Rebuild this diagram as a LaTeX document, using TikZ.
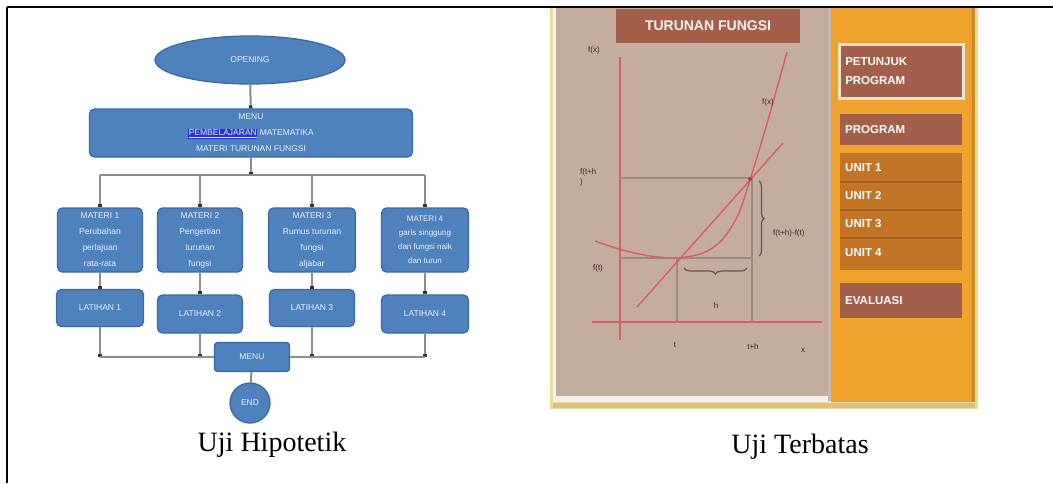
\documentclass[tikz,border=0pt]{standalone}
\usepackage{fontspec}
\setmainfont{Liberation Serif}
\setsansfont{Liberation Sans}
\usetikzlibrary{shapes.geometric,arrows.meta,decorations.pathreplacing,calc}
\definecolor{flowblue}{HTML}{4F81BD}
\definecolor{flowedge}{HTML}{3B69A3}
\definecolor{conngray}{HTML}{8C8C8C}
\definecolor{tipdark}{HTML}{333333}
\definecolor{linkblue}{HTML}{2233CC}
\definecolor{tanbg}{HTML}{C4AC9F}
\definecolor{brick}{HTML}{A2604A}
\definecolor{orangebg}{HTML}{F0A22E}
\definecolor{unitbg}{HTML}{C27526}
\definecolor{unitline}{HTML}{A65E1E}
\definecolor{paleyel}{HTML}{ECDC9C}
\definecolor{graphred}{HTML}{D9605A}
\definecolor{guidegray}{HTML}{9A8A80}
\definecolor{labeldark}{HTML}{3A2A22}
\definecolor{creamedge}{HTML}{F2E2D2}
\begin{document}
\begin{tikzpicture}[x=1pt,y=-1pt,
  flowbox/.style={fill=flowblue, draw=flowedge, line width=1.3pt, rounded corners=5pt,
    text=white!90!flowblue, font=\sffamily\fontsize{8.5}{16}\selectfont, align=center, inner sep=0pt},
  conn/.style={draw=conngray, line width=2pt},
  tipconn/.style={conn, -{Square[length=3pt,width=3.5pt,color=tipdark]}},
  caption/.style={font=\fontsize{28}{30}\selectfont, inner sep=0pt},
  menuitem/.style={fill=brick, draw=none, inner sep=0pt, anchor=north west,
    text=white, font=\sffamily\bfseries\fontsize{11.5}{19}\selectfont, align=left},
  glabel/.style={font=\sffamily\fontsize{8}{10}\selectfont, text=labeldark, inner sep=0pt},
  guide/.style={draw=guidegray, line width=1.8pt},
  redline/.style={draw=graphred, line width=1.4pt},
  bracestyle/.style={draw=labeldark!80, line width=1.2pt, decorate}
]
\useasboundingbox (0,0) rectangle (1053,483);
% table frame
\draw[line width=2.2pt] (7,7) -- (1053,7);
\draw[line width=2.2pt] (7,7) -- (7,483);

% ---------------- left flowchart ----------------
\node[flowbox, ellipse, rounded corners=0pt, minimum width=190, minimum height=48] (open) at (250,60) {OPENING};
\node[flowbox, minimum width=323, minimum height=48] (menu) at (251,133)
  {MENU\\{\setlength{\fboxsep}{0.6pt}\colorbox{linkblue}{\underline{PEMBELAJARAN}}} MATEMATIKA\\MATERI TURUNAN FUNGSI};
\node[flowbox, minimum width=85, minimum height=64] (m1) at (100,240) {MATERI 1\\Perubahan\\perlajuan\\rata-rata};
\node[flowbox, minimum width=85, minimum height=64] (m2) at (200,240) {MATERI 2\\Pengertian\\turunan\\fungsi};
\node[flowbox, minimum width=87, minimum height=64] (m3) at (312,240) {MATERI 3\\Rumus turunan\\fungsi\\aljabar};
\node[flowbox, minimum width=87, minimum height=64, font=\sffamily\fontsize{8}{14}\selectfont] (m4) at (425,240) {MATERI 4\\garis singgung\\dan fungsi naik\\dan turun};
\node[flowbox, minimum width=87, minimum height=37] (l1) at (100,308) {LATIHAN 1};
\node[flowbox, minimum width=85, minimum height=38] (l2) at (200,314) {LATIHAN 2};
\node[flowbox, minimum width=85, minimum height=37] (l3) at (312,308) {LATIHAN 3};
\node[flowbox, minimum width=87, minimum height=38] (l4) at (425,314) {LATIHAN 4};
\coordinate (bustop) at (251,175);
\coordinate (busbot) at (251,357);
% connectors (drawn behind the MENU box below)
\draw[tipconn] (open) -- (menu);
\draw[tipconn] (menu) -- (bustop);
\draw[conn] (m1.north |- bustop) -- (m4.north |- bustop);
\foreach \m in {m1,m2,m3,m4} { \draw[tipconn] (\m.north |- bustop) -- (\m.north); }
\foreach \m/\l in {m1/l1,m2/l2,m3/l3,m4/l4} { \draw[tipconn] (\m.south) -- (\l.north); }
\foreach \l in {l1,l2,l3,l4} { \draw[tipconn] (\l.south) -- (\l.south |- busbot); }
\draw[conn] (l1.south |- busbot) -- (l4.south |- busbot);
\node[flowbox, minimum width=75, minimum height=29, rounded corners=3pt] (menu2) at (252,357) {MENU};
\node[flowbox, circle, minimum size=40] (end) at (250,403) {END};
\draw[conn] (menu2) -- (end);
\node[caption] (cap1) at (272,445) {Uji Hipotetik};

% ---------------- right screenshot ----------------
\fill[paleyel] (550,8) rectangle (978,409);
\fill[tanbg] (553,8) rectangle (831,401);
\fill[white!85!tanbg] (553,8) rectangle (556,401);
\fill[white!80!tanbg] (553,396) rectangle (831,402);
\fill[tanbg!85!white] (828,8) rectangle (831,401);
\fill[orangebg] (831,8) rectangle (975,402);
\fill[orangebg!85!black] (972,8) rectangle (975,402);
\fill[paleyel!70!brown] (553,403) rectangle (975,408);

\node[fill=brick, minimum width=184, minimum height=34, inner sep=0pt,
  text=white!92!brick, font=\sffamily\bfseries\fontsize{14}{16}\selectfont] (title) at (708,26) {TURUNAN FUNGSI};

% menu column
\node[menuitem, draw=creamedge, line width=2.5pt, minimum width=124, minimum height=54,
  text width=112, inner xsep=6pt] (petunjuk) at (838,43) {PETUNJUK\\PROGRAM};
\node[menuitem, minimum width=122, minimum height=31, text width=112, inner xsep=5pt] (program) at (840,114) {PROGRAM};
\node[fill=unitbg, inner sep=0pt, anchor=north west, minimum width=122, minimum height=117] (units) at (840,153) {};
\foreach \y in {182,210,238} { \draw[unitline, line width=1.5pt] (840,\y) -- (962,\y); }
\foreach \i/\y in {1/168,2/196,3/224,4/253} {
  \node[font=\sffamily\bfseries\fontsize{11.5}{13}\selectfont, text=white, anchor=west, inner sep=0pt] (unit\i) at (845,\y) {UNIT \i};
}
\node[menuitem, minimum width=122, minimum height=35, text width=112, inner xsep=5pt] (evaluasi) at (840,283) {EVALUASI};

% graph
\draw[redline] (620,57) -- (620,340);
\draw[redline] (592,322) -- (822,322);
\draw[guide] (620,178) -- (752,178);
\draw[guide] (620,258) -- (753,258);
\draw[guide] (677,258) -- (677,322);
\draw[guide] (752,178) -- (752,322);
\draw[redline] plot[smooth] coordinates {(595,241) (622,250) (650,256) (677,258) (703,253) (722,240) (738,215) (750,180) (768,120) (787,52)};
\draw[redline] (637,307) -- (783,143);
\fill[graphred!70!black] (750,179) circle (2pt);
\draw[bracestyle, decoration={brace, amplitude=5pt}] (759,181) -- (759,256);
\draw[bracestyle, decoration={brace, amplitude=6pt}] (747,268) -- (684,268);
\node[glabel] (lfx) at (594,50) {f(x)};
\node[glabel] (lfx2) at (768,102) {f(x)};
\node[glabel, align=left, anchor=north west] (lfth) at (580,168) {f(t+h\\)};
\node[glabel] (lft) at (598,268) {f(t)};
\node[glabel, anchor=west] (ldiff) at (773,233) {f(t+h)-f(t)};
\node[glabel] (lh) at (716,306) {h};
\node[glabel] (lt) at (675,345) {t};
\node[glabel] (lth) at (753,347) {t+h};
\node[glabel] (lx) at (803,350) {x};

\node[caption] (cap2) at (800,447) {Uji Terbatas};
\end{tikzpicture}
\end{document}
